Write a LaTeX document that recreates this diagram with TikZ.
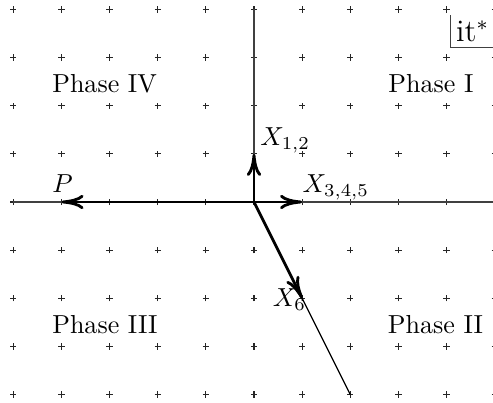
\documentclass[tikz,border=0pt]{standalone}
\usetikzlibrary{arrows.meta}
\begin{document}
\begin{tikzpicture}[x=0.65cm,y=0.65cm,
  axisline/.style={line width=0.45pt, black!75},
  thinline/.style={line width=0.45pt, black},
  vec/.style={line width=1.1pt, -{Computer Modern Rightarrow[length=8.5pt,width=5.5pt]}},
  lbl/.style={anchor=base west, inner sep=0pt},
  gridmark/.style={line width=0.45pt, black!85}]
\useasboundingbox (-5.275,-4.154) rectangle (4.964,4.195);
% grid marks
\foreach \i in {-5,...,5}{
  \foreach \j in {-4,...,4}{
    \draw[gridmark] (\i-0.065,\j) -- (\i+0.065,\j) (\i,\j-0.065) -- (\i,\j+0.065);
  }
}
\coordinate (O) at (0,0);
\coordinate (L) at (-5,0);
\coordinate (R) at (5.2,0);
\coordinate (T) at (0,4);
\coordinate (B) at (2,-4);
\coordinate (p) at (-4,0);
\coordinate (x12) at (0,1);
\coordinate (x345) at (1,0);
\coordinate (x6) at (1,-2);
% axes
\draw[axisline] (L) -- (R);
\draw[axisline] (T) -- (O);
\draw[thinline] (O) -- (B);
% vectors
\draw[vec] (O) -- (p);
\draw[vec] (O) -- (x12);
\draw[vec] (O) -- (x345);
\draw[vec] (O) -- (x6);
% labels
\node[lbl] (lp) at (-4.20,0.20) {$P$};
\node[lbl] (l12) at (0.12,1.18) {$X_{1,2}$};
\node[lbl] (l345) at (1.0,0.19) {$X_{3,4,5}$};
\node[lbl] (l6) at (0.38,-2.18) {$X_6$};
\node[lbl] (ph4) at (-4.2,2.28) {Phase IV};
\node[lbl] (ph1) at (2.78,2.28) {Phase I};
\node[lbl] (ph3) at (-4.2,-2.74) {Phase III};
\node[lbl] (ph2) at (2.77,-2.74) {Phase II};
% corner label
\node[anchor=south west, inner sep=2pt, font=\large] (itl) at (4.08,3.2) {it$^{*}$};
\coordinate (itend) at (5.2,3.2);
\draw[axisline] (itl.north west) -- (itl.south west) -- (itend);
\end{tikzpicture}
\end{document}
